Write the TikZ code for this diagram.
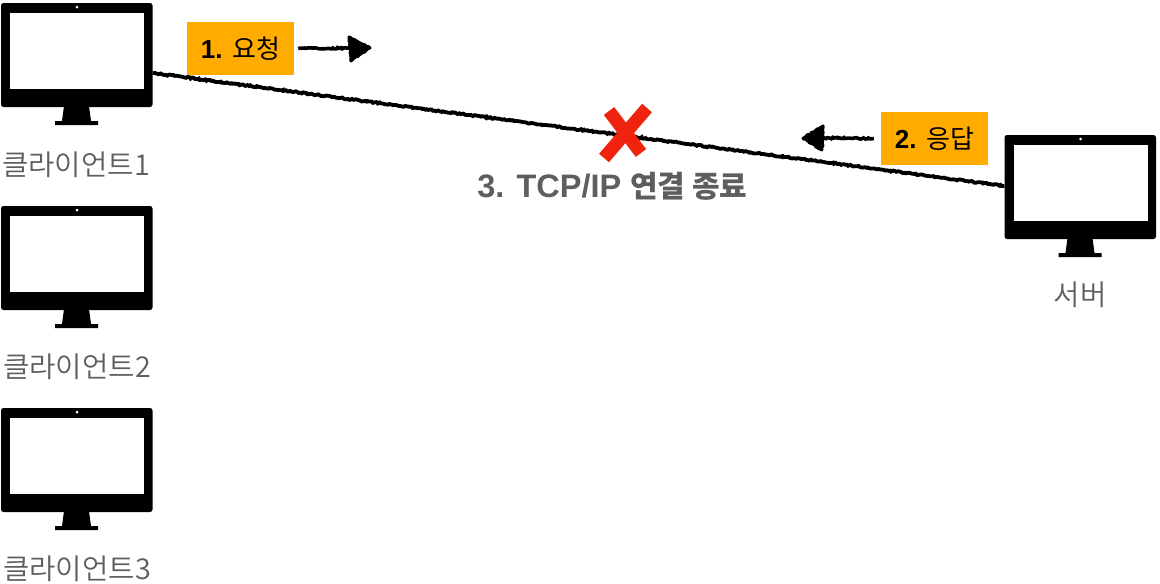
\documentclass[tikz,border=0pt]{standalone}
\usepackage{fontspec}
\setmainfont{Liberation Sans}
\newfontfamily\kr{Noto Sans CJK KR}
\newfontfamily\krlight{Noto Sans CJK KR DemiLight}
\usetikzlibrary{decorations.pathmorphing}
\definecolor{boxorange}{HTML}{FFAB00}
\definecolor{labelgray}{HTML}{5E5E5E}
\definecolor{xred}{HTML}{F0240E}
\tikzset{
  x=1pt,y=-1pt,
  bezel/.style={draw=none,fill=black,rounded corners=2.5pt,minimum width=151.5pt,minimum height=104pt,inner sep=0pt,outer sep=0pt},
  screen/.style={draw=none,fill=white,minimum width=134pt,minimum height=76pt,inner sep=0pt,outer sep=0pt},
  devlabel/.style={text=labelgray,font=\krlight\fontsize{28.7}{30}\selectfont,inner sep=0pt},
  tagbox/.style={fill=boxorange,minimum width=107pt,minimum height=53pt,inner sep=0pt,text=black,font=\fontsize{26}{30}\selectfont},
  rough/.style={decorate,decoration={random steps,segment length=1.6pt,amplitude=0.7pt}},
  wire/.style={draw=black,line width=3.8pt,rough},
  hand/.style={draw=black,line width=3.6pt,rough},
  handhead/.style={draw=black,fill=black,line width=3pt,line join=round,rough},
  cross/.style={draw=xred,line width=13pt},
}
\newcommand{\monitor}[3]{%
  \node[bezel] (#1) at (#2+76.75,#3+55) {};
  \node[screen] (#1s) at (#2+77,#3+51) {};
  \fill[white] (#2+77,#3+7) circle (1.5pt);
  \fill[black] (#2+64,#3+106) -- (#2+89,#3+106) -- (#2+91,#3+121) -- (#2+98,#3+121) -- (#2+98,#3+125) -- (#2+55,#3+125) -- (#2+55,#3+121) -- (#2+62,#3+121) -- cycle;
}
\begin{document}
\begin{tikzpicture}
\useasboundingbox (0,0) rectangle (1160,584);
\monitor{cone}{0}{0}
\monitor{ctwo}{0}{203}
\monitor{cthree}{0}{405}
\monitor{srv}{1003.5}{132}
\node[devlabel] (lone) at (76,165) {클라이언트1};
\node[devlabel] (ltwo) at (77,367) {클라이언트2};
\node[devlabel] (lthree) at (77,569) {클라이언트3};
\node[devlabel] (lsrv) at (1080,295) {서버};
\coordinate (wa) at (cone.east |- 0,73);
\coordinate (wb) at (srv.west |- 0,186);
\draw[wire] (wa) -- (wb);
\node[tagbox] (req) at (240.5,48.5) {\textbf{1.} {\kr 요청}};
\node[tagbox] (res) at (934.5,138.5) {\textbf{2.} {\kr 응답}};
\coordinate (ra) at (349,48);
\draw[hand] (req.east)++(4,0) -- (ra);
\draw[handhead] (349,37) -- (370,48) -- (351,61) -- cycle;
\draw[hand] (res.west)++(-7,0) -- (823,138);
\draw[handhead] (823,126) -- (803,138) -- (822,150) -- cycle;
\draw[cross] (609,111) -- (641,153);
\draw[cross] (647,108) -- (604,158);
\node[text=labelgray,font=\bfseries\fontsize{32.5}{36}\selectfont,inner sep=0pt] (end) at (612.5,186) {3. TCP/IP {\kr\bfseries\fontsize{30}{36}\selectfont 연결 종료}};
\end{tikzpicture}
\end{document}
